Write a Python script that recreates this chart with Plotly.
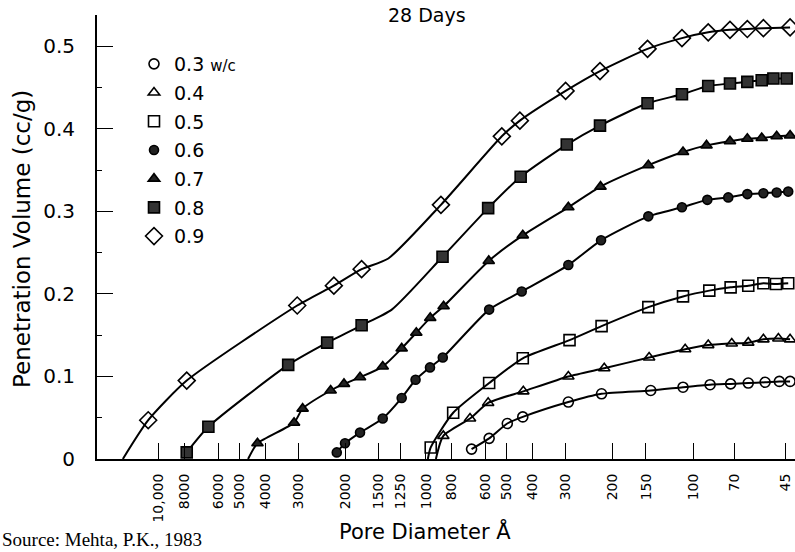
import math
import plotly.graph_objects as go

# ---------------- data ----------------
series_names = ["0.3", "0.4", "0.5", "0.6", "0.7", "0.8", "0.9"]

# pore diameter (Angstrom) and cumulative penetration volume (cc/g)
w03_x = [675, 580, 496, 434, 293, 220, 144, 109, 86.3, 72.3, 62.1, 53.7, 47.5, 43.3]
w03_y = [0.012, 0.025, 0.043, 0.051, 0.069, 0.079, 0.083, 0.087, 0.090, 0.091, 0.092, 0.093, 0.094, 0.094]
w03_marked = [1] * 14

w04_x = [918, 861, 684, 585, 432, 293, 215, 146, 107, 87.7, 71.6, 62.1, 54.5, 47.9, 43.3]
w04_y = [0, 0.028, 0.049, 0.068, 0.082, 0.100, 0.110, 0.123, 0.133, 0.138, 0.140, 0.141, 0.145, 0.146, 0.145]
w04_marked = [0] + [1] * 14

w05_x = [984, 960, 791, 580, 434, 290, 220, 147, 109, 86.9, 72.3, 62.1, 54.5, 48.9, 44]
w05_y = [0, 0.014, 0.056, 0.092, 0.122, 0.144, 0.161, 0.184, 0.197, 0.204, 0.208, 0.210, 0.213, 0.212, 0.213]
w05_marked = [0] + [1] * 14

w06_x = [2158, 2010, 1766, 1452, 1233, 1094, 966, 865, 580, 438, 293, 221, 147, 110, 88.4, 73.8, 62.6, 54.5, 48.6, 44]
w06_y = [0.008, 0.019, 0.032, 0.049, 0.074, 0.096, 0.111, 0.123, 0.181, 0.203, 0.235, 0.265, 0.294, 0.305, 0.314, 0.317, 0.321, 0.322, 0.323, 0.324]
w06_marked = [1] * 20

w07_x = [4637, 4276, 3119, 2897, 2275, 2028, 1766, 1452, 1233, 1087, 964, 859, 582, 434, 293, 222, 147, 109, 89, 72.7, 62.6, 55.3, 48.6, 43.3]
w07_y = [0, 0.019, 0.044, 0.061, 0.083, 0.091, 0.099, 0.112, 0.134, 0.153, 0.171, 0.185, 0.240, 0.271, 0.305, 0.330, 0.356, 0.372, 0.380, 0.385, 0.388, 0.389, 0.391, 0.392]
w07_marked = [0] + [1] * 23

w08_x = [7870, 6530, 3281, 2344, 1742, 1343, 867, 585, 442, 297, 223, 148, 110, 87.7, 72.7, 62.6, 55.3, 50, 44.6]
w08_y = [0.008, 0.039, 0.114, 0.141, 0.162, 0.181, 0.245, 0.304, 0.342, 0.381, 0.404, 0.431, 0.442, 0.452, 0.455, 0.457, 0.459, 0.461, 0.461]
w08_marked = [1, 1, 1, 1, 1, 0] + [1] * 13

w09_x = [13650, 10970, 7870, 3035, 2213, 1742, 1384, 879, 520, 445, 300, 223, 148, 110, 87.7, 72.7, 62.6, 54.5, 43.3]
w09_y = [0, 0.047, 0.095, 0.186, 0.210, 0.230, 0.243, 0.308, 0.391, 0.410, 0.446, 0.470, 0.497, 0.510, 0.517, 0.520, 0.521, 0.522, 0.523]
w09_marked = [0, 1, 1, 1, 1, 1, 0] + [1] * 12

x_tick_vals = [10000, 8000, 6000, 5000, 4000, 3000, 2000, 1500, 1250, 1000, 800, 600, 500, 400, 300, 200, 150, 100, 70, 45]
x_tick_text = ["10,000", "8000", "6000", "5000", "4000", "3000", "2000", "1500", "1250", "1000",
               "800", "600", "500", "400", "300", "200", "150", "100", "70", "45"]
y_tick_vals = [0, 0.1, 0.2, 0.3, 0.4, 0.5]
y_tick_text = ["0", "0.1", "0.2", "0.3", "0.4", "0.5"]

# ---------------- styling ----------------
FONT = "DejaVu Sans"
styles = {
    "0.3": dict(symbol="circle-open", size=10, color="black"),
    "0.4": dict(symbol="triangle-up-open", size=10, color="black"),
    "0.5": dict(symbol="square-open", size=11, color="black"),
    "0.6": dict(symbol="circle", size=9, color="#222222"),
    "0.7": dict(symbol="triangle-up", size=10, color="#222222"),
    "0.8": dict(symbol="square", size=11, color="#333333"),
    "0.9": dict(symbol="diamond-open", size=13, color="black"),
}
data = {
    "0.3": (w03_x, w03_y, w03_marked),
    "0.4": (w04_x, w04_y, w04_marked),
    "0.5": (w05_x, w05_y, w05_marked),
    "0.6": (w06_x, w06_y, w06_marked),
    "0.7": (w07_x, w07_y, w07_marked),
    "0.8": (w08_x, w08_y, w08_marked),
    "0.9": (w09_x, w09_y, w09_marked),
}

fig = go.Figure()
for name in series_names:
    xs, ys, mk = data[name]
    fig.add_trace(go.Scatter(
        x=xs, y=ys, mode="lines", line=dict(color="black", width=2, shape="spline", smoothing=0.6),
        showlegend=False, legendgroup=name, hoverinfo="skip"))
for name in series_names:
    xs, ys, mk = data[name]
    st = styles[name]
    mx = [x for x, m in zip(xs, mk) if m]
    my = [y for y, m in zip(ys, mk) if m]
    label = name if name != "0.3" else "0.3 <span style='font-size:15px'>w/c</span>"
    fig.add_trace(go.Scatter(
        x=mx, y=my, mode="markers", name=label, legendgroup=name,
        marker=dict(symbol=st["symbol"], size=st["size"], color=st["color"],
                    line=dict(color="black", width=1.6)),
    ))

# plot area: x 97..795 px, y 15..459 px
L, R, T, B = 97, 0, 15, 93
W, H = 795, 552
pw, ph = W - L - R, H - T - B

def px_x(p):
    return (p - L) / pw

def px_y(p):
    return (H - B - p) / ph

fig.update_layout(
    width=W, height=H,
    margin=dict(l=L, r=R, t=T, b=B),
    paper_bgcolor="white", plot_bgcolor="white",
    font=dict(family=FONT, color="black"),
    showlegend=True,
    legend=dict(x=px_x(134), y=px_y(45), xanchor="left", yanchor="top",
                bgcolor="rgba(0,0,0,0)", font=dict(size=19, family=FONT),
                traceorder="grouped", tracegroupgap=1, itemwidth=30),
    xaxis=dict(type="log", range=[math.log10(17060), math.log10(41.5)],
               tickvals=x_tick_vals, ticktext=x_tick_text, tickangle=-90,
               ticks="inside", ticklen=16, tickwidth=1.3, tickcolor="black",
               tickfont=dict(size=14, family=FONT),
               showline=True, linecolor="black", linewidth=2,
               showgrid=False, zeroline=False, ticklabelstandoff=7),
    yaxis=dict(range=[0, 0.538], tickvals=y_tick_vals, ticktext=y_tick_text,
               ticks="inside", ticklen=16, tickwidth=1.3, tickcolor="black",
               tickfont=dict(size=20, family=FONT),
               minor=dict(tickvals=[0.05, 0.15, 0.25, 0.35, 0.45], ticks="inside",
                          ticklen=5, tickcolor="black", tickwidth=1),
               showline=True, linecolor="black", linewidth=2,
               showgrid=False, zeroline=False, ticklabelstandoff=16),
)

fig.add_annotation(text="28 Days", xref="paper", yref="paper",
                   x=px_x(427), y=px_y(2), xanchor="center", yanchor="top",
                   showarrow=False, font=dict(size=19, family=FONT))
fig.add_annotation(text="Pore Diameter Å", xref="paper", yref="paper",
                   x=px_x(425), y=px_y(546), xanchor="center", yanchor="bottom",
                   showarrow=False, font=dict(size=21, family=FONT))
fig.add_annotation(text="Penetration Volume (cc/g)", xref="paper", yref="paper",
                   x=px_x(22), y=px_y(239), xanchor="center", yanchor="middle",
                   textangle=-90, showarrow=False, font=dict(size=23, family=FONT))
fig.add_annotation(text="Source: Mehta, P.K., 1983", xref="paper", yref="paper",
                   x=px_x(0), y=px_y(552), xanchor="left", yanchor="bottom",
                   showarrow=False, font=dict(size=19, family="Liberation Serif"))

fig.write_html("out.html")
